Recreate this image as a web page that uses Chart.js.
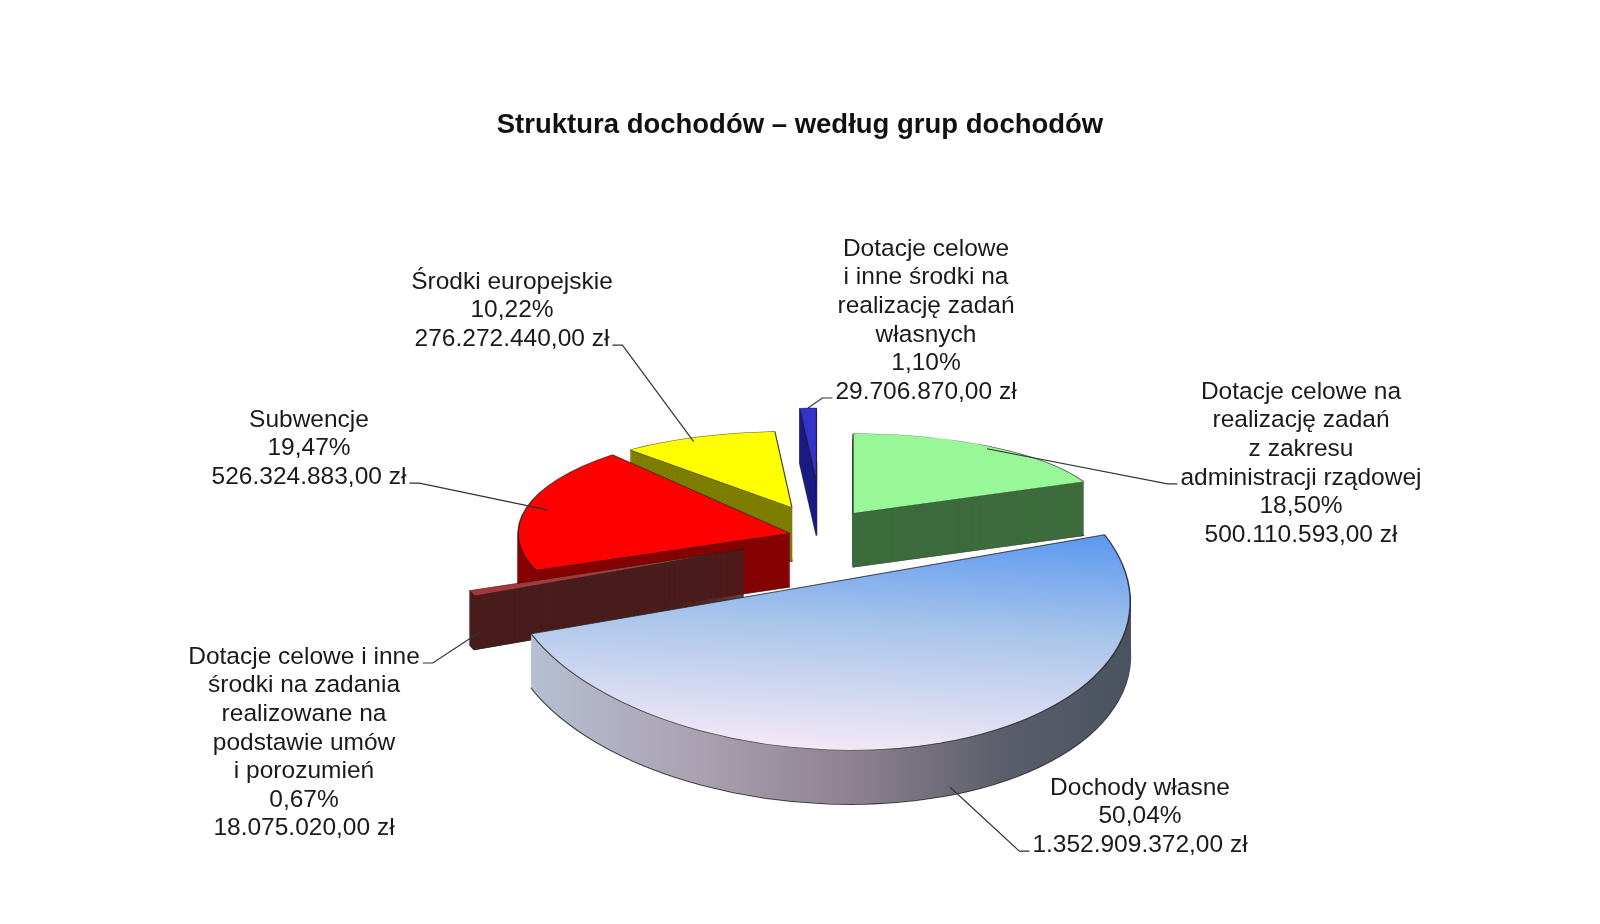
<!DOCTYPE html>
<html>
<head>
<meta charset="utf-8">
<script src="https://cdn.jsdelivr.net/npm/chart.js@4.4.1/dist/chart.umd.min.js"></script>
<style>
html,body{margin:0;padding:0;background:#fff;}
#wrap{width:1600px;height:924px;position:relative;}
</style>
</head>
<body>
<div id="wrap"><canvas id="c" width="1600" height="924"></canvas></div>
<script>
// ---------- DATA ----------
const chartTitle = 'Struktura dochodów – według grup dochodów';
const categories = [
  'Dotacje celowe na realizację zadań z zakresu administracji rządowej',
  'Dochody własne',
  'Dotacje celowe i inne środki na zadania realizowane na podstawie umów i porozumień',
  'Subwencje',
  'Środki europejskie',
  'Dotacje celowe i inne środki na realizację zadań własnych'
];
const categoryLines = [
  ['Dotacje celowe na', 'realizację zadań', 'z zakresu', 'administracji rządowej'],
  ['Dochody własne'],
  ['Dotacje celowe i inne', 'środki na zadania', 'realizowane na', 'podstawie umów', 'i porozumień'],
  ['Subwencje'],
  ['Środki europejskie'],
  ['Dotacje celowe', 'i inne środki na', 'realizację zadań', 'własnych']
];
const valuesPLN = [500110593.00, 1352909372.00, 18075020.00, 526324883.00, 276272440.00, 29706870.00];
const percents = [18.50, 50.04, 0.67, 19.47, 10.22, 1.10];

// ---------- STYLE / LAYOUT ----------
const topColors  = ['#98f898', null, '#a83838', '#ff0000', '#ffff00', '#3333cc'];
const sideColors = ['#3d6b3d', null, '#4a1d1d', '#860000', '#7d7d00', '#1c1c84'];
const explode = [78, 78, 62, 22, 95, 199];
const SX = 786, SY = 546, RADIUS = 315, K = 0.54, NPOW = 3.36, H = 80, HX = 163, PERSP = 0.22, SHEAR = 0.06, DEPTH = 54;
const FONT = '24.5px "Liberation Sans", Arial, sans-serif';
const LINE_H = 28.6;
const labelLayout = [
  {x: 1301, y: 392, line: 3, side: 'left',  da: 0.0,  rf: 0.97, d: 0},
  {x: 1140, y: 788, line: 2, side: 'left',  da: -0.03, rf: 1.0, d: 46},
  {x: 304,  y: 657, line: 0, side: 'right', da: 0.0,  rf: 0.97, d: 40},
  {x: 309,  y: 420, line: 2, side: 'right', da: 0.0,  rf: 0.92, d: 0},
  {x: 512,  y: 282, line: 2, side: 'right', da: -0.04, rf: 0.95, d: 0},
  {x: 926,  y: 249, line: 5, side: 'left',  da: 0.0,  rf: 1.0, d: 0}
];

function fmtPLN(v) {
  const [ip, dp] = v.toFixed(2).split('.');
  return ip.replace(/\B(?=(\d{3})+(?!\d))/g, '.') + ',' + dp + ' zł';
}
function fmtPct(p) { return p.toFixed(2).replace('.', ',') + '%'; }

function sliceGeom(arc, i) {
  const mid = (arc.startAngle + arc.endAngle) / 2;
  const back = -Math.sin(mid);
  const s = 1 - PERSP * (1 + back) / 2;
  return {
    mid, back, s,
    sy: Math.pow(s, NPOW) * K,
    c: SHEAR * Math.max(0, -back),
    ox: SX + (1 - s) * HX,
    oy: SY - (1 - s) * H,
    ex: Math.cos(mid) * explode[i],
    ey: Math.sin(mid) * explode[i]
  };
}
function applyT(ctx, g, cx, cy, d) {
  ctx.translate(g.ox, g.oy + d);
  ctx.transform(1, g.c, 0, 1, 0, 0);
  ctx.scale(g.s, g.sy);
  ctx.translate(-cx + g.ex, -cy + g.ey);
}
function toScreen(g, px, py, cx, cy, d) {
  const X = g.s * (px - cx + g.ex);
  const Y = g.sy * (py - cy + g.ey);
  return [g.ox + X, g.oy + d + Y + g.c * X];
}
function drawWith(ctx, arc, opts) {
  const p = Object.create(arc);
  p.options = Object.assign({}, arc.options, {offset: 0, spacing: 0, borderAlign: 'center'}, opts);
  p.draw(ctx);
}

const pseudo3d = {
  id: 'pseudo3d',
  beforeDatasetsDraw(chart) {
    const ctx = chart.ctx;
    const arcs = chart.getDatasetMeta(0).data;
    const cx = arcs[0].x, cy = arcs[0].y, R = arcs[0].outerRadius;
    const sideGrad = ctx.createLinearGradient(cx - R, 0, cx + R, 0);
    sideGrad.addColorStop(0, '#b8c3d8');
    sideGrad.addColorStop(0.3, '#aaa2b2');
    sideGrad.addColorStop(0.55, '#8f8290');
    sideGrad.addColorStop(0.8, '#5a5e6a');
    sideGrad.addColorStop(1, '#4a5260');
    const topGrad = ctx.createLinearGradient(0, cy - 0.42 * R, 0, cy + R);
    topGrad.addColorStop(0, '#5896f0');
    topGrad.addColorStop(0.45, '#a7c4ea');
    topGrad.addColorStop(1, '#f3e8f6');
    const order = arcs.map((a, i) => i).sort((a, b) => sliceGeom(arcs[b], b).back - sliceGeom(arcs[a], a).back);
    for (const i of order) {
      const arc = arcs[i];
      const g = sliceGeom(arc, i);
      const side = sideColors[i] || sideGrad;
      const top = topColors[i] || topGrad;
      for (let d = DEPTH; d >= 1; d--) {
        ctx.save();
        applyT(ctx, g, cx, cy, d);
        drawWith(ctx, arc, {backgroundColor: side, borderColor: d === DEPTH ? 'rgba(30,30,30,0.8)' : side, borderWidth: d === DEPTH ? 2 : 1});
        ctx.restore();
      }
      ctx.save();
      applyT(ctx, g, cx, cy, 0);
      drawWith(ctx, arc, {backgroundColor: top, borderColor: 'rgba(30,30,30,0.75)', borderWidth: 1.6});
      ctx.restore();
    }
    return false;
  },
  afterDraw(chart) {
    const ctx = chart.ctx;
    const arcs = chart.getDatasetMeta(0).data;
    const cx = arcs[0].x, cy = arcs[0].y, R = arcs[0].outerRadius;
    ctx.save();
    ctx.font = FONT;
    ctx.textAlign = 'center';
    ctx.textBaseline = 'middle';
    arcs.forEach((arc, i) => {
      const L = labelLayout[i];
      const lines = categoryLines[i].concat([fmtPct(percents[i]), fmtPLN(valuesPLN[i])]);
      ctx.fillStyle = '#1a1a1a';
      lines.forEach((t, j) => ctx.fillText(t, L.x, L.y + j * LINE_H));
      const g = sliceGeom(arc, i);
      const a = g.mid + L.da;
      const [axp, ayp] = toScreen(g, cx + Math.cos(a) * R * L.rf, cy + Math.sin(a) * R * L.rf, cx, cy, L.d);
      const w = ctx.measureText(lines[L.line]).width;
      const ly = L.y + L.line * LINE_H + 6;
      const sx = L.side === 'left' ? L.x - w / 2 - 3 : L.x + w / 2 + 3;
      const sx2 = L.side === 'left' ? sx - 10 : sx + 10;
      ctx.strokeStyle = '#333';
      ctx.lineWidth = 1.2;
      ctx.beginPath();
      ctx.moveTo(sx, ly);
      ctx.lineTo(sx2, ly);
      ctx.lineTo(axp, ayp);
      ctx.stroke();
    });
    ctx.restore();
  }
};

new Chart(document.getElementById('c'), {
  type: 'pie',
  data: {
    labels: categories,
    datasets: [{
      data: valuesPLN,
      backgroundColor: topColors.map(c => c || '#7aaaf0'),
      borderWidth: 1,
      offset: 0
    }]
  },
  options: {
    responsive: false,
    animation: false,
    events: [],
    radius: RADIUS,
    rotation: 0,
    layout: {padding: 0},
    plugins: {
      legend: {display: false},
      tooltip: {enabled: false},
      title: {
        display: true,
        text: chartTitle,
        color: '#111',
        font: {family: '"Liberation Sans", Arial, sans-serif', size: 27.5, weight: 'bold', lineHeight: 1.2},
        padding: {top: 109, bottom: 0}
      }
    }
  },
  plugins: [pseudo3d]
});
</script>
</body>
</html>
